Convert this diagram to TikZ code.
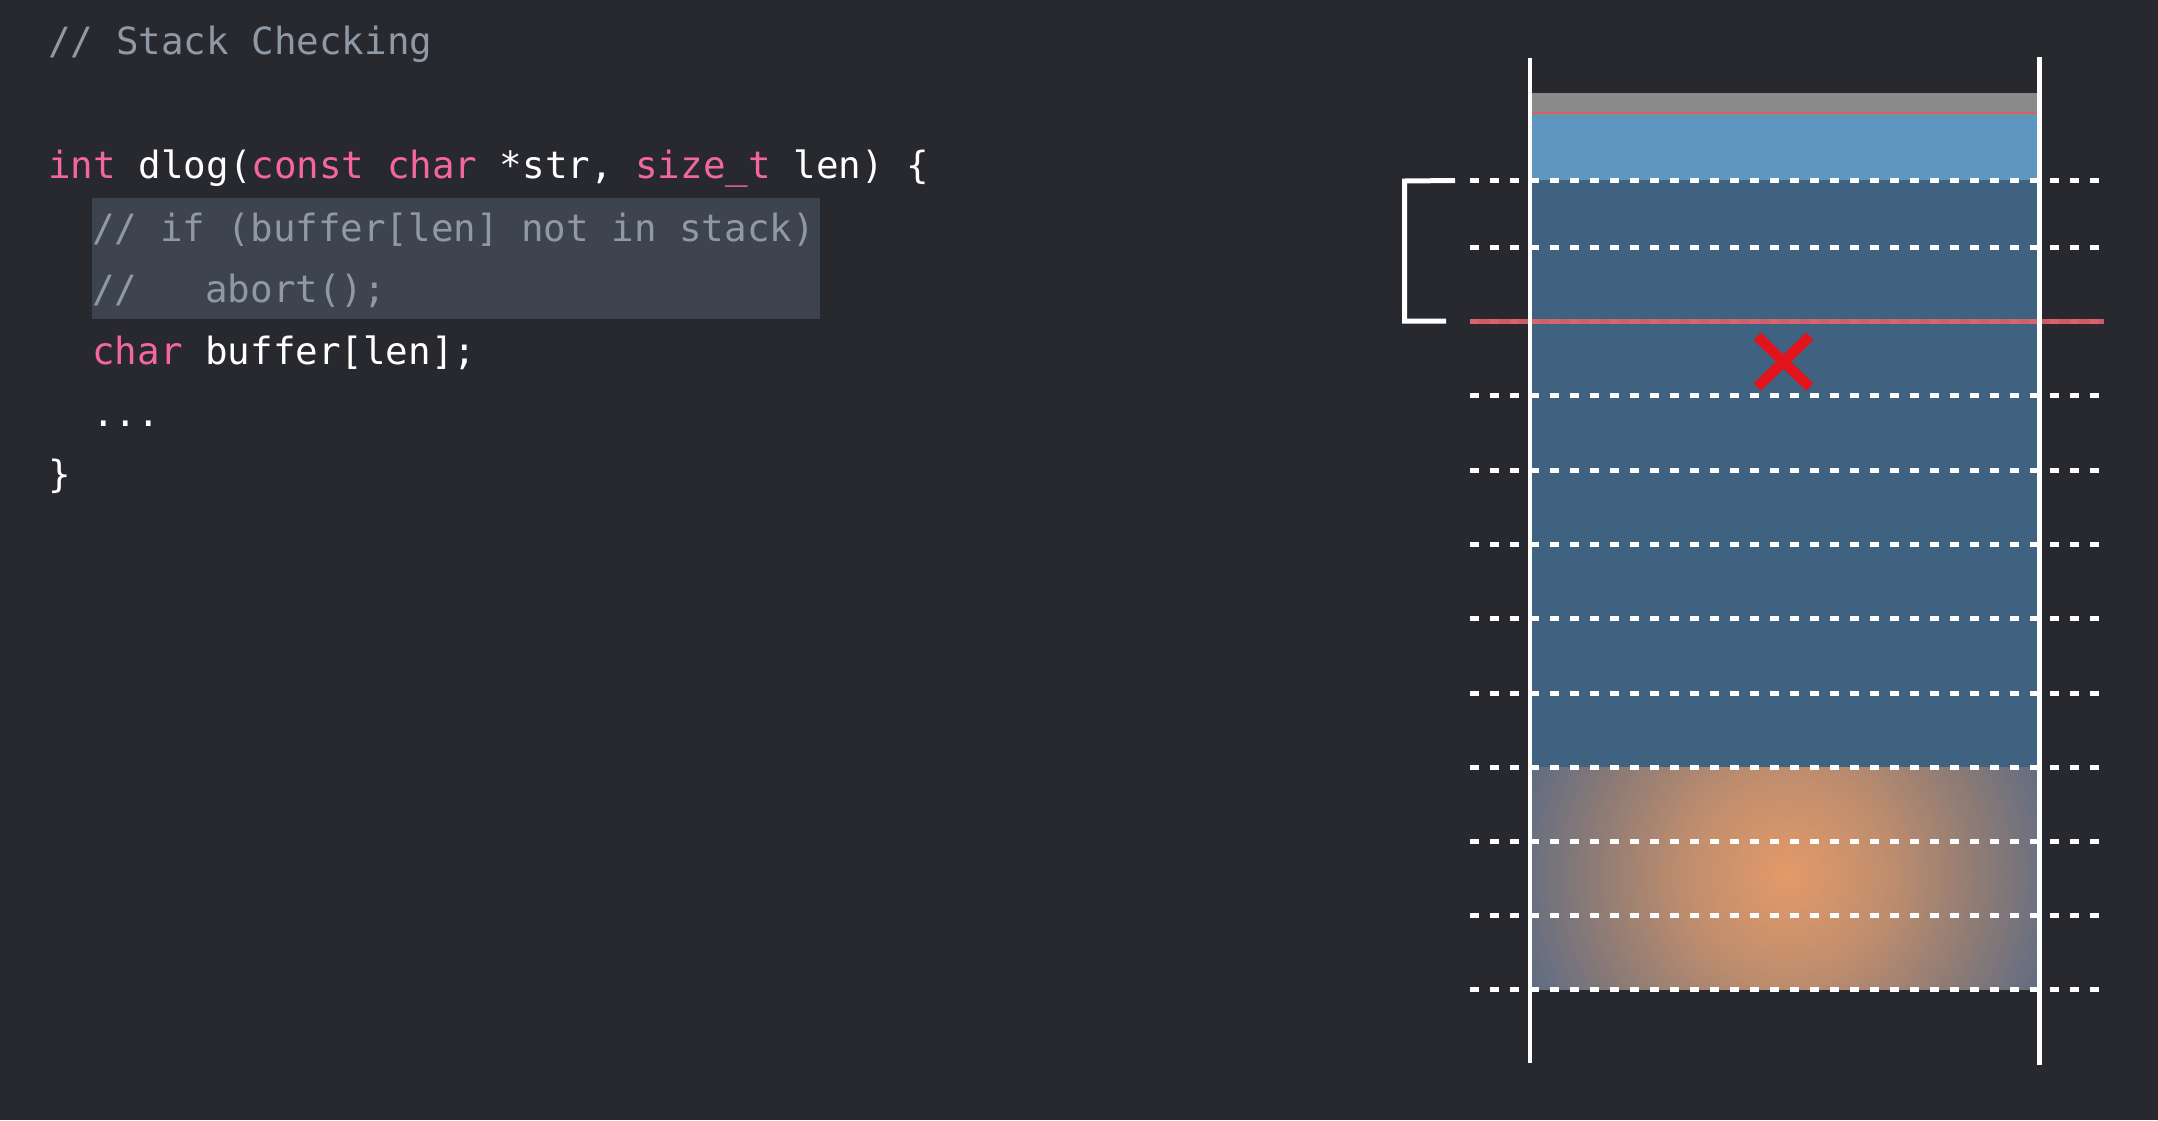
\documentclass[tikz,border=0pt]{standalone}
\usepackage{fontspec}
\usetikzlibrary{calc}
\setmonofont{DejaVu Sans Mono}
\definecolor{bgc}{HTML}{28292E}
\definecolor{kwc}{HTML}{F4669F}
\definecolor{cmtc}{HTML}{8F99A6}
\definecolor{hlc}{HTML}{3D4450}
\definecolor{grayband}{HTML}{8A8A8A}
\definecolor{thinred}{HTML}{DA5F67}
\definecolor{thingreen}{HTML}{62A08C}
\definecolor{lightblue}{HTML}{5E96C0}
\definecolor{darkblue}{HTML}{3E627F}
\definecolor{redline}{HTML}{DC5F6A}
\definecolor{xred}{HTML}{E3131B}
\definecolor{glowa}{HTML}{E39A69}
\definecolor{glowb}{HTML}{BE8D6E}
\definecolor{glowc}{HTML}{8A7A76}
\definecolor{glowd}{HTML}{6B7080}
\definecolor{glowe}{HTML}{5F6D7E}
\pgfdeclareradialshading{stackglow}{\pgfpoint{0bp}{0bp}}{color(0bp)=(glowa); color(9.4bp)=(glowb); color(17.85bp)=(glowc); color(22.85bp)=(glowd); color(25bp)=(glowe); color(50bp)=(glowe)}
\tikzset{
  codeline/.style={anchor=base west, inner sep=0pt, font=\ttfamily\fontsize{18.75}{20}\selectfont, text=white},
  slotline/.style={draw=white, line width=2.5pt, dash pattern=on 4.65pt off 5.35pt},
  railline/.style={draw=white, line width=2.35pt},
  bracketline/.style={draw=white, line width=2.5pt},
}
\begin{document}
\begin{tikzpicture}[x=0.5pt, y=-0.5pt]
\fill[bgc] (0,0) rectangle (2158,1120);
\useasboundingbox (0,0) rectangle (2158,1120);
% code
\fill[hlc] (92,197.5) rectangle (820,318.5);
\node[codeline, text=cmtc] (title) at (48,54) {// Stack Checking};
\node[codeline] (l1) at (48,178.5) {\textcolor{kwc}{int} dlog(\textcolor{kwc}{const} \textcolor{kwc}{char} *str, \textcolor{kwc}{size\_t} len) \{};
\node[codeline, text=cmtc] (l2) at (92,241) {// if (buffer[len] not in stack)};
\node[codeline, text=cmtc] (l3) at (92,302.5) {//\ \ \ abort();};
\node[codeline] (l4) at (92,364) {\textcolor{kwc}{char} buffer[len];};
\node[codeline] (l5) at (92,426) {...};
\node[codeline] (l6) at (48,487) {\}};
% stack fills
\fill[grayband] (1530,93.3) rectangle (2040,112);
\fill[thinred] (1530,112) rectangle (2040,114);
\fill[thingreen] (1530,114) rectangle (2040,115.2);
\fill[lightblue] (1530,115) rectangle (2040,180);
\fill[darkblue] (1530,180) rectangle (2040,767.5);
\begin{scope}
  \clip (1530,767.5) rectangle (2041,989.5);
  \shade[shading=stackglow] (1506.7,595) rectangle (2066.7,1155);
\end{scope}
% slot lines
\foreach \yy in {180,247.5,395.7,470,544,618.5,693,767.5,841.5,915.5,989.5}{
  \draw[slotline] (1470,\yy) -- (2100,\yy);
}
\draw[slotline, opacity=0.5] (1470,321.7) -- (2100,321.7);
\draw[redline, line width=2.65pt, opacity=0.92] (1470,321.7) -- (2104,321.7);
% rails
\coordinate (lt) at (1530,58);
\coordinate (lb) at (1530,1063);
\coordinate (rt) at (2039.5,57);
\coordinate (rb) at (2039.5,1065);
\draw[railline] (lt) -- (lb);
\draw[railline] (rt) -- (rb);
% bracket
\coordinate (bt) at (1455,180.5);
\coordinate (bb) at (1446,321);
\draw[bracketline] (bt) -- (1404.5,181) -- (1404.5,321) -- (bb);
% cross
\coordinate (xc) at (1783.5,361.7);
\draw[xred, line width=5.2pt] ($(xc)+(-26.3,-25.4)$) -- ($(xc)+(26.3,25.4)$);
\draw[xred, line width=5.2pt] ($(xc)+(26.3,-25.4)$) -- ($(xc)+(-26.3,25.4)$);
\end{tikzpicture}
\end{document}
